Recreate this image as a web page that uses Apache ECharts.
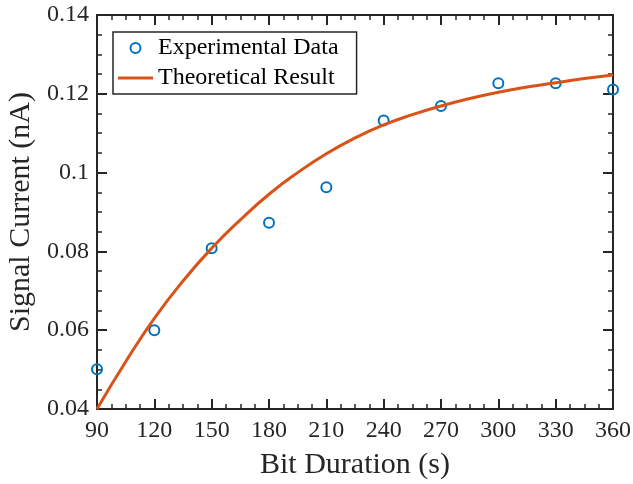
<!DOCTYPE html>
<html>
<head>
<meta charset="utf-8">
<script src="https://cdn.jsdelivr.net/npm/echarts@6/dist/echarts.min.js"></script>
<style>
  html, body { margin: 0; padding: 0; background: #fff; }
  #chart { width: 633px; height: 484px; }
</style>
</head>
<body>
<div id="chart"></div>
<script>
// measured points (s, nA)
const bitDuration = [90, 120, 150, 180, 210, 240, 270, 300, 330, 360];
const expCurrent = [0.0501, 0.0600, 0.0808, 0.0873, 0.0963, 0.1132, 0.1169, 0.1227, 0.1227, 0.1211];

// theoretical curve, every 15 s
const theoryDuration = [90, 105, 120, 135, 150, 165, 180, 195, 210, 225, 240, 255, 270, 285, 300, 315, 330, 345, 360];
const theoryCurrent = [0.0400, 0.0520, 0.0630, 0.0725, 0.0808, 0.0880, 0.0945, 0.1000, 0.1048, 0.1088, 0.1121,
  0.1147, 0.1169, 0.1188, 0.1204, 0.1217, 0.1228, 0.1239, 0.1248];

const xTicks = [90, 120, 150, 180, 210, 240, 270, 300, 330, 360];
const yTicks = [0.04, 0.06, 0.08, 0.1, 0.12, 0.14];

const seriesNames = ['Experimental Data', 'Theoretical Result'];

const FONT = '"Liberation Serif", serif';
const AX = '#262626';
const BLUE = '#0072BD';
const ORANGE = '#D95319';

let chart = echarts.init(document.getElementById('chart'));

// common axis look: box with inward ticks on all sides
function axisBase(show) {
  return {
    axisLine: { show: true, onZero: false, lineStyle: { color: AX, width: 2 } },
    axisTick: { show: true, inside: true, length: 10, lineStyle: { color: AX, width: 2 } },
    minorTick: { show: true, splitNumber: 4, length: 5, lineStyle: { color: AX, width: 1.5 } },
    splitLine: { show: false },
    axisLabel: { show: show, color: AX, fontFamily: FONT, fontSize: 24 }
  };
}

let xMain = Object.assign(axisBase(true), {
  type: 'value',
  position: 'bottom',
  min: xTicks[0],
  max: xTicks[xTicks.length - 1],
  interval: xTicks[1] - xTicks[0],
  name: 'Bit Duration (s)',
  nameLocation: 'middle',
  nameGap: 41,
  nameTextStyle: { color: AX, fontFamily: FONT, fontSize: 30 }
});
xMain.axisLabel.margin = 10;

let xTop = Object.assign(axisBase(false), {
  type: 'value',
  position: 'top',
  min: xTicks[0],
  max: xTicks[xTicks.length - 1],
  interval: xTicks[1] - xTicks[0]
});

let yMain = Object.assign(axisBase(true), {
  type: 'value',
  position: 'left',
  min: yTicks[0],
  max: yTicks[yTicks.length - 1],
  interval: 0.02,
  name: 'Signal Current (nA)',
  nameLocation: 'middle',
  nameGap: 61,
  nameTextStyle: { color: AX, fontFamily: FONT, fontSize: 30 }
});
yMain.axisLabel.margin = 8;
yMain.axisLabel.formatter = function (v) { return String(+v.toFixed(2)); };

let yRight = Object.assign(axisBase(false), {
  type: 'value',
  position: 'right',
  min: yTicks[0],
  max: yTicks[yTicks.length - 1],
  interval: 0.02
});

let option = {
  backgroundColor: '#fff',
  animation: false,
  grid: { left: 97, right: 20, top: 15, bottom: 75, containLabel: false, outerBoundsMode: 'none' },
  legend: {
    left: 113,
    top: 32,
    orient: 'vertical',
    backgroundColor: '#fff',
    borderColor: AX,
    borderWidth: 1.5,
    borderRadius: 0,
    padding: [4, 18, 4, 5],
    itemGap: 6,
    itemWidth: 35,
    itemHeight: 10,
    textStyle: { color: '#000', fontFamily: FONT, fontSize: 24 },
    data: [
      { name: seriesNames[0], icon: 'circle',
        itemStyle: { color: 'transparent', borderColor: BLUE, borderWidth: 2 } },
      // plain line icon, no marker
      { name: seriesNames[1], icon: 'path://M0,0H35V3H0Z',
        itemStyle: { color: ORANGE, borderWidth: 0 } }
    ]
  },
  xAxis: [xMain, xTop],
  yAxis: [yMain, yRight],
  series: [
    {
      name: seriesNames[0],
      type: 'scatter',
      symbol: 'circle',
      symbolSize: 10,
      z: 2,
      itemStyle: { color: 'transparent', borderColor: BLUE, borderWidth: 2, opacity: 1 },
      data: bitDuration.map(function (d, i) { return [d, expCurrent[i]]; })
    },
    {
      name: seriesNames[1],
      type: 'line',
      smooth: true,
      symbol: 'none',
      z: 3,
      lineStyle: { color: ORANGE, width: 3 },
      itemStyle: { color: ORANGE },
      data: theoryDuration.map(function (d, i) { return [d, theoryCurrent[i]]; })
    }
  ]
};

chart.setOption(option);
</script>
</body>
</html>
